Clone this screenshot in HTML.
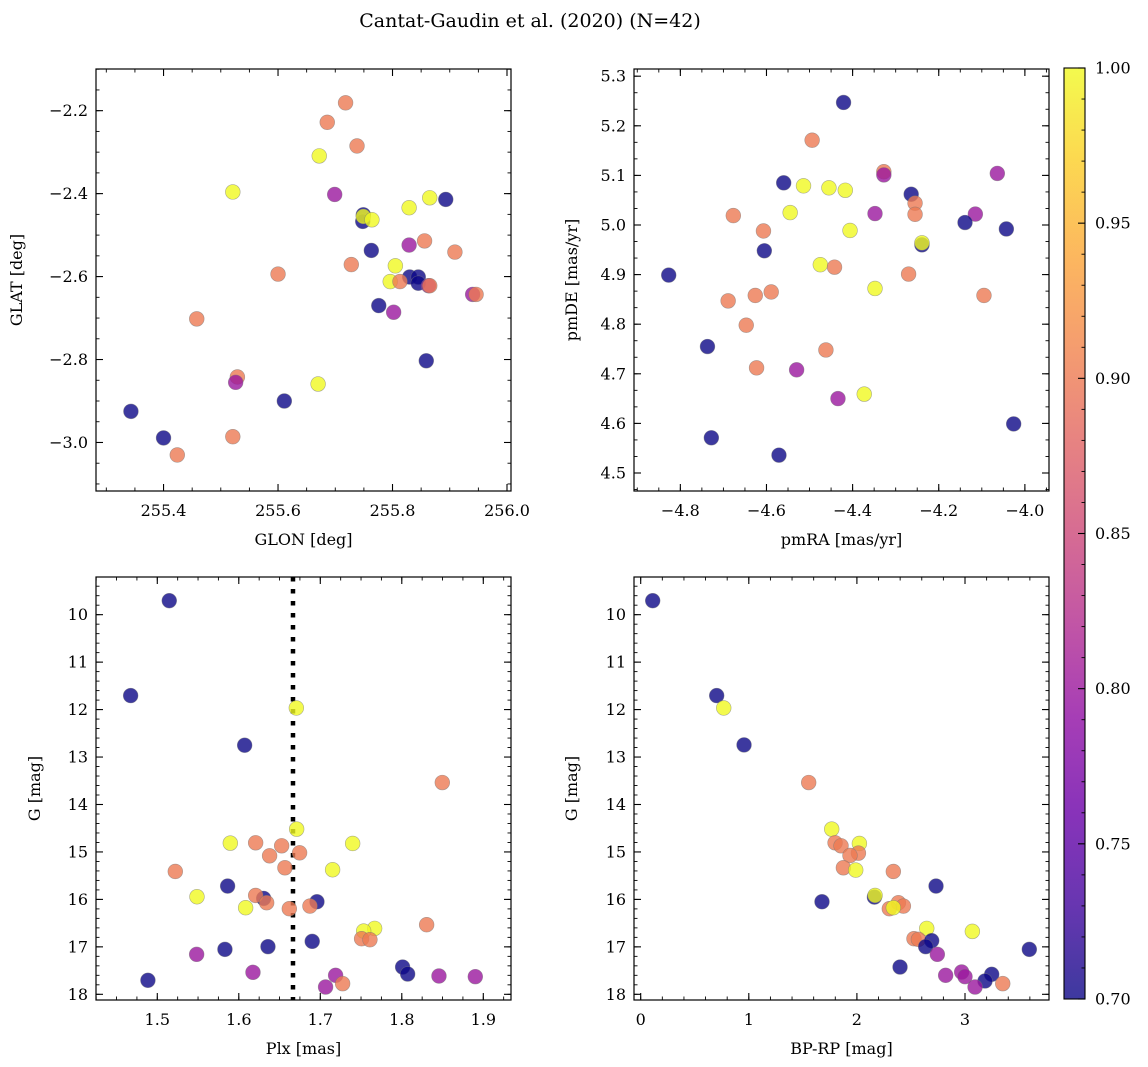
<!DOCTYPE html>
<html><head><meta charset="utf-8"><style>
html,body{margin:0;padding:0;background:#fff;}
svg{display:block;font-family:"DejaVu Serif","Liberation Serif",serif;}
</style></head><body>
<svg id="fig" width="1148" height="1067" viewBox="0 0 1148 1067" xmlns="http://www.w3.org/2000/svg">
<rect width="1148" height="1067" fill="#fff"/>
<text x="530" y="27" text-anchor="middle" font-size="19" fill="#000">Cantat-Gaudin et al. (2020) (N=42)</text>
<defs>
<linearGradient id="plasmaGrad" x1="0" y1="1" x2="0" y2="0"></linearGradient>
</defs>
</svg>
<script>
// ---- Panel 1: GLON vs GLAT ----
const glon = [255.718,255.686,255.738,255.672,255.521,255.699,255.865,255.893,255.829,255.749,255.748,255.749,255.764,255.829,255.856,255.909,255.763,255.805,255.728,255.600,255.830,255.845,255.845,255.796,255.813,255.863,255.865,255.940,255.946,255.776,255.802,255.458,255.859,255.529,255.526,255.670,255.611,255.343,255.400,255.521,255.424];
const glat = [-2.181,-2.228,-2.285,-2.309,-2.396,-2.402,-2.410,-2.414,-2.434,-2.451,-2.467,-2.455,-2.463,-2.524,-2.514,-2.541,-2.537,-2.574,-2.571,-2.594,-2.601,-2.601,-2.616,-2.612,-2.612,-2.622,-2.622,-2.643,-2.643,-2.670,-2.686,-2.702,-2.803,-2.842,-2.855,-2.859,-2.900,-2.925,-2.989,-2.986,-3.030];
const probPos = [0.9,0.9,0.9,1.0,1.0,0.8,1.0,0.7,1.0,0.7,0.7,1.0,1.0,0.8,0.9,0.9,0.7,1.0,0.9,0.9,0.7,0.7,0.7,1.0,0.9,0.8,0.9,0.8,0.9,0.7,0.8,0.9,0.7,0.9,0.8,1.0,0.7,0.7,0.7,0.9,0.9];
// ---- Panel 2: pmRA vs pmDE ----
const pmra = [-4.421,-4.494,-4.3275,-4.3275,-4.064,-4.560,-4.514,-4.455,-4.417,-4.264,-4.255,-4.255,-4.545,-4.348,-4.677,-4.115,-4.139,-4.043,-4.607,-4.406,-4.239,-4.239,-4.605,-4.475,-4.442,-4.827,-4.270,-4.348,-4.095,-4.589,-4.626,-4.689,-4.647,-4.737,-4.462,-4.623,-4.530,-4.373,-4.434,-4.026,-4.728,-4.571];
const pmde = [5.247,5.171,5.1075,5.101,5.104,5.085,5.079,5.075,5.070,5.062,5.044,5.0215,5.025,5.023,5.019,5.022,5.005,4.992,4.988,4.989,4.960,4.964,4.948,4.920,4.915,4.899,4.901,4.872,4.858,4.865,4.858,4.847,4.798,4.755,4.748,4.712,4.708,4.659,4.650,4.599,4.571,4.536];
const probPm = [0.7,0.9,0.9,0.8,0.8,0.7,1.0,1.0,1.0,0.7,0.9,0.9,1.0,0.8,0.9,0.8,0.7,0.7,0.9,1.0,0.7,1.0,0.7,1.0,0.9,0.7,0.9,1.0,0.9,0.9,0.9,0.9,0.9,0.7,0.9,0.9,0.8,1.0,0.8,0.7,0.7,0.7];
// ---- Panel 3: Plx vs G ----
const plx = [1.5147,1.4673,1.6072,1.6706,1.8497,1.671,1.5896,1.6207,1.6526,1.7397,1.6746,1.6378,1.6566,1.7151,1.5221,1.5863,1.5487,1.6305,1.6207,1.6342,1.6959,1.6873,1.6084,1.662,1.8305,1.7667,1.7532,1.7507,1.7609,1.6901,1.583,1.6358,1.5483,1.801,1.8072,1.6174,1.7188,1.8456,1.8902,1.7274,1.7065,1.4885];
const gmagA = [9.705,11.705,12.751,11.965,13.537,14.519,14.814,14.807,14.870,14.821,15.018,15.081,15.333,15.375,15.411,15.719,15.944,15.979,15.916,16.070,16.049,16.140,16.175,16.196,16.533,16.611,16.667,16.828,16.849,16.884,17.053,16.996,17.158,17.425,17.572,17.537,17.600,17.614,17.628,17.775,17.846,17.705];
const probPlx = [0.7,0.7,0.7,1.0,0.9,1.0,1.0,0.9,0.9,1.0,0.9,0.9,0.9,1.0,0.9,0.7,1.0,0.7,0.9,0.9,0.7,0.9,1.0,0.9,0.9,1.0,1.0,0.9,0.9,0.7,0.7,0.7,0.8,0.7,0.7,0.8,0.8,0.8,0.8,0.9,0.8,0.7];
const plxMean = [1.6665];
// ---- Panel 4: BP-RP vs G ----
const bprp = [0.111,0.703,0.768,0.956,1.554,1.767,1.798,1.853,2.023,2.014,1.936,1.875,1.989,2.337,2.732,2.162,2.168,1.677,2.384,2.430,2.300,2.337,2.646,3.068,2.528,2.569,2.692,2.636,3.595,2.744,2.399,3.247,3.185,2.821,2.969,3.000,3.093,3.349];
const gmagB = [9.705,11.705,11.965,12.744,13.537,14.519,14.807,14.870,14.821,15.025,15.074,15.333,15.382,15.411,15.719,15.951,15.916,16.049,16.070,16.140,16.196,16.175,16.611,16.674,16.828,16.842,16.870,16.996,17.053,17.158,17.425,17.579,17.719,17.600,17.530,17.628,17.846,17.775];
const probCmd = [0.7,0.7,1.0,0.7,0.9,1.0,0.9,0.9,1.0,0.9,0.9,0.9,1.0,0.9,0.7,0.7,1.0,0.7,0.9,0.9,0.9,1.0,1.0,1.0,0.9,0.9,0.7,0.7,0.7,0.8,0.7,0.7,0.7,0.8,0.8,0.8,0.8,0.9];
// ---- Colorbar ----
const cbTicks = [0.70,0.75,0.80,0.85,0.90,0.95,1.00];

const NS = "http://www.w3.org/2000/svg";
const svg = document.getElementById('fig');
function mk(tag, attrs, parent){
  const e = document.createElementNS(NS, tag);
  for (const k in attrs) e.setAttribute(k, attrs[k]);
  (parent||svg).appendChild(e);
  return e;
}
const plasmaStops = [[0,'#0d0887'],[0.1,'#41049d'],[0.2,'#6a00a8'],[0.3,'#8f0da4'],[0.4,'#b12a90'],[0.5,'#cc4778'],[0.6,'#e16462'],[0.7,'#f2844b'],[0.8,'#fca636'],[0.9,'#fcce25'],[1,'#f0f921']];
function hex(c){return [parseInt(c.slice(1,3),16),parseInt(c.slice(3,5),16),parseInt(c.slice(5,7),16)];}
function plasma(t){
  t=Math.max(0,Math.min(1,t));
  for(let i=1;i<plasmaStops.length;i++){
    if(t<=plasmaStops[i][0]){
      const a=plasmaStops[i-1],b=plasmaStops[i];
      const f=(t-a[0])/(b[0]-a[0]);const ca=hex(a[1]),cb=hex(b[1]);
      return 'rgb('+ca.map((v,j)=>Math.round(v+(cb[j]-v)*f)).join(',')+')';
    }
  }
  return plasmaStops[plasmaStops.length-1][1];
}
const vmin=0.7, vmax=1.0;
function fmt(v,d){ const s=Math.abs(v).toFixed(d); return (v<0?'\u2212':'')+s; }

function panel(cfg){
  const g = mk('g',{});
  
  
  const L=cfg.box[0],T=cfg.box[1],R=cfg.box[2],B=cfg.box[3];
  const sx = v => L + (v-cfg.xlim[0])/(cfg.xlim[1]-cfg.xlim[0])*(R-L);
  const sy = cfg.yinv ? (v => T + (v-cfg.ylim[0])/(cfg.ylim[1]-cfg.ylim[0])*(B-T))
                      : (v => B - (v-cfg.ylim[0])/(cfg.ylim[1]-cfg.ylim[0])*(B-T));
  const clip = mk('clipPath',{id:'clip-'+cfg.name},g);
  mk('rect',{x:L,y:T,width:R-L,height:B-T},clip);
  if(cfg.vline){
    const vl = mk('line',{x1:sx(cfg.vline[0]),x2:sx(cfg.vline[0]),y1:T,y2:B,stroke:'#000','stroke-width':4.5,'stroke-dasharray':'4.5 7.5','clip-path':'url(#clip-'+cfg.name+')'},g);
    
    
  }
  const pg = mk('g',{'clip-path':'url(#clip-'+cfg.name+')'},g);
  for(let i=0;i<Math.min(cfg.xs.length,cfg.ys.length);i++){
    const c = mk('circle',{cx:sx(cfg.xs[i]),cy:sy(cfg.ys[i]),r:7.4,fill:plasma((cfg.cs[i]-vmin)/(vmax-vmin)),'fill-opacity':0.8,stroke:'#777','stroke-opacity':0.6,'stroke-width':0.6},pg);
    
    
  }
  mk('rect',{x:L,y:T,width:R-L,height:B-T,fill:'none',stroke:'#000','stroke-width':1.2},g);
  const eps=1e-9;
  function ticksX(step,len,w){
    let s=Math.ceil((cfg.xlim[0]-eps)/step);
    for(let k=s;k*step<=cfg.xlim[1]+eps;k++){
      const x=sx(k*step);
      mk('line',{x1:x,x2:x,y1:B,y2:B-len,stroke:'#000','stroke-width':w},g);
      mk('line',{x1:x,x2:x,y1:T,y2:T+len,stroke:'#000','stroke-width':w},g);
    }
  }
  function ticksY(step,len,w){
    const lo=Math.min(cfg.ylim[0],cfg.ylim[1]),hi=Math.max(cfg.ylim[0],cfg.ylim[1]);
    let s=Math.ceil((lo-eps)/step);
    for(let k=s;k*step<=hi+eps;k++){
      const y=sy(k*step);
      mk('line',{x1:L,x2:L+len,y1:y,y2:y,stroke:'#000','stroke-width':w},g);
      mk('line',{x1:R,x2:R-len,y1:y,y2:y,stroke:'#000','stroke-width':w},g);
    }
  }
  ticksX(cfg.xstep/cfg.xdiv,3.5,0.9); ticksX(cfg.xstep,7,1.1);
  ticksY(cfg.ystep/cfg.ydiv,3.5,0.9); ticksY(cfg.ystep,7,1.1);
  cfg.xticks.forEach(v=>{
    const t=mk('text',{x:sx(v),y:B+25,'text-anchor':'middle','font-size':16,fill:'#000'},g);
    t.textContent=fmt(v,cfg.xdec);
    
    
  });
  cfg.yticks.forEach(v=>{
    const t=mk('text',{x:L-8,y:sy(v)+5.5,'text-anchor':'end','font-size':16,fill:'#000'},g);
    t.textContent=fmt(v,cfg.ydec);
    
    
  });
  const xl=mk('text',{x:(L+R)/2,y:B+54,'text-anchor':'middle','font-size':16,fill:'#000'},g);
  xl.textContent=cfg.xlabel;
  
  
  const yl=mk('text',{x:0,y:0,'text-anchor':'middle','font-size':16,fill:'#000',transform:'translate('+cfg.ylx+','+((T+B)/2)+') rotate(-90)'},g);
  yl.textContent=cfg.ylabel;
  
  
}

panel({name:'galactic-position-panel',box:[96,69,511,491],xlim:[255.282,256.007],ylim:[-3.117,-2.0995],xs:glon,ys:glat,cs:probPos,
  xstep:0.2,xdiv:4,ystep:0.2,ydiv:4,xticks:[255.4,255.6,255.8,256.0],yticks:[-2.2,-2.4,-2.6,-2.8,-3.0],xdec:1,ydec:1,
  xlabel:'GLON [deg]',ylabel:'GLAT [deg]',ylx:22});
panel({name:'proper-motion-panel',box:[634,69,1049,491],xlim:[-4.9076,-3.944],ylim:[4.4637,5.3145],xs:pmra,ys:pmde,cs:probPm,
  xstep:0.2,xdiv:4,ystep:0.1,ydiv:3,xticks:[-4.8,-4.6,-4.4,-4.2,-4.0],yticks:[4.5,4.6,4.7,4.8,4.9,5.0,5.1,5.2,5.3],xdec:1,ydec:1,
  xlabel:'pmRA [mas/yr]',ylabel:'pmDE [mas/yr]',ylx:577});
panel({name:'parallax-magnitude-panel',box:[96,577,511,1000],xlim:[1.4248,1.934],ylim:[9.206,18.12],yinv:true,xs:plx,ys:gmagA,cs:probPlx,vline:plxMean,
  xstep:0.1,xdiv:4,ystep:1,ydiv:5,xticks:[1.5,1.6,1.7,1.8,1.9],yticks:[10,11,12,13,14,15,16,17,18],xdec:1,ydec:0,
  xlabel:'Plx [mas]',ylabel:'G [mag]',ylx:40});
panel({name:'color-magnitude-panel',box:[634,577,1049,1000],xlim:[-0.062,3.777],ylim:[9.206,18.12],yinv:true,xs:bprp,ys:gmagB,cs:probCmd,
  xstep:1,xdiv:5,ystep:1,ydiv:5,xticks:[0,1,2,3],yticks:[10,11,12,13,14,15,16,17,18],xdec:0,ydec:0,
  xlabel:'BP-RP [mag]',ylabel:'G [mag]',ylx:577});

(function(){
  const grad=document.getElementById('plasmaGrad');
  for(let i=0;i<=20;i++){
    mk('stop',{offset:(i/20),'stop-color':plasma(i/20)},grad);
  }
  const g=mk('g',{});
  
  
  const L=1064,R=1085,T=68,B=999;
  const sy=v=>B-(v-vmin)/(vmax-vmin)*(B-T);
  mk('rect',{x:L,y:T,width:R-L,height:B-T,fill:'url(#plasmaGrad)','fill-opacity':0.8},g);
  mk('rect',{x:L,y:T,width:R-L,height:B-T,fill:'none',stroke:'#000','stroke-width':1.1},g);
  for(let k=70;k<=100;k++){
    const y=sy(k/100);
    const major=(k%5===0);
    mk('line',{x1:R,x2:R-(major?7:3.5),y1:y,y2:y,stroke:'#000','stroke-width':major?1.1:0.9},g);
  }
  cbTicks.forEach(v=>{
    const t=mk('text',{x:R+10,y:sy(v)+5.5,'font-size':16,fill:'#000'},g);
    t.textContent=v.toFixed(2);
    
    
  });
})();
</script>
</body></html>
